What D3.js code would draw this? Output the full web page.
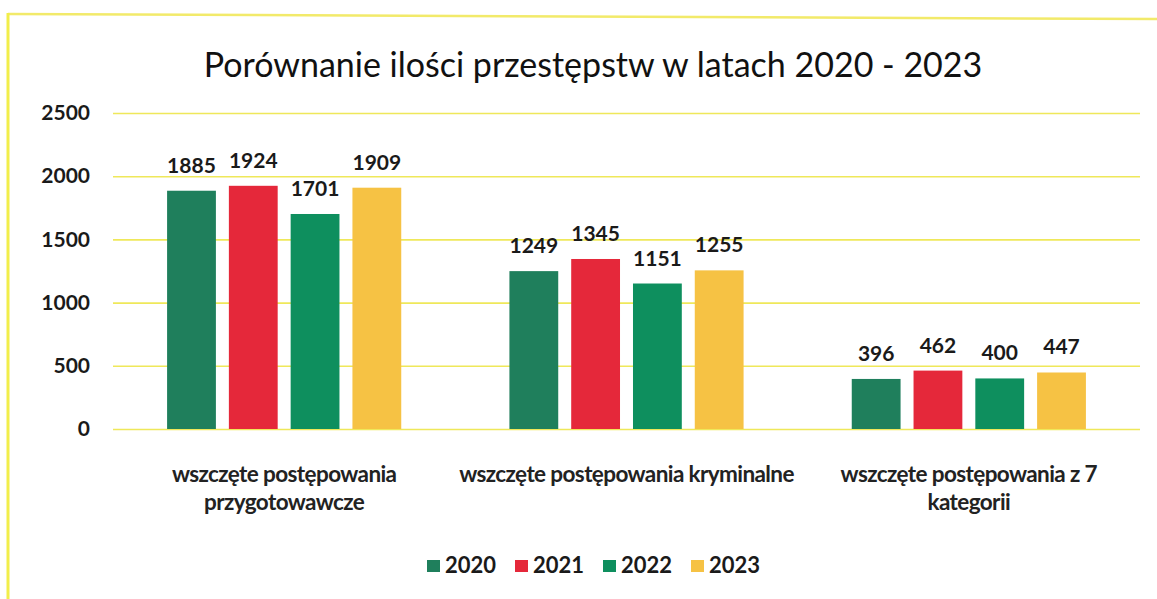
<!DOCTYPE html>
<html>
<head>
<meta charset="utf-8">
<script src="https://cdn.jsdelivr.net/npm/d3@7"></script>
<style>
  html, body { margin: 0; padding: 0; background: #fff; }
  svg { display: block; }
  text { font-family: Lato, "Open Sans", sans-serif; }
</style>
</head>
<body>
<svg id="chart" width="1157" height="599"></svg>
<script>
const title = "Porównanie ilości przestępstw w latach 2020 - 2023";
const categories = [
  ["wszczęte postępowania", "przygotowawcze"],
  ["wszczęte postępowania kryminalne"],
  ["wszczęte postępowania z 7", "kategorii"]
];
const years = ["2020", "2021", "2022", "2023"];
const values2020 = [1885, 1249, 396];
const values2021 = [1924, 1345, 462];
const values2022 = [1701, 1151, 400];
const values2023 = [1909, 1255, 447];
const yTicks = [0, 500, 1000, 1500, 2000, 2500];
const colors = ["#1f7f5c", "#e5283a", "#0e8f5e", "#f6c244"];

const series = [values2020, values2021, values2022, values2023];
const catKeys = categories.map((c, i) => "c" + i);

const svg = d3.select("#chart");
const W = 1157, H = 599;
const plot = { left: 113, right: 1140, top: 113, bottom: 429 };

// frame
svg.append("line").attr("x1", 8).attr("x2", W).attr("y1", 14).attr("y2", 19)
  .attr("stroke", "#f2ea6a").attr("stroke-width", 2.5);
svg.append("line").attr("x1", 8).attr("x2", 8).attr("y1", 13).attr("y2", H)
  .attr("stroke", "#f2ee4a").attr("stroke-width", 3);

const y = d3.scaleLinear().domain([0, 2500]).range([plot.bottom, plot.top]);
const x0 = d3.scaleBand().domain(catKeys).range([plot.left, plot.right]).paddingInner(0.316).paddingOuter(0.158);
const x1 = d3.scaleBand().domain(years).range([0, x0.bandwidth()]).paddingInner(0.21).paddingOuter(0);

// gridlines
const yAxis = d3.axisLeft(y).tickValues(yTicks).tickSize(-(plot.right - plot.left)).tickFormat(d3.format("d"));
const gAxis = svg.append("g").attr("transform", `translate(${plot.left},0)`).call(yAxis);
gAxis.select(".domain").remove();
gAxis.selectAll(".tick line").attr("stroke", "#efe85a").attr("stroke-width", 1.6);
gAxis.selectAll(".tick text")
  .attr("x", -23)
  .attr("fill", "#1a1a1a")
  .style("font-size", "21px")
  .style("font-weight", "bold")
  .style("font-family", "Lato, sans-serif");

// title
svg.append("text").attr("x", 593).attr("y", 77).attr("text-anchor", "middle")
  .attr("fill", "#111").style("font-size", "34px").text(title);

// bars
const groups = svg.append("g").selectAll("g").data(catKeys).join("g")
  .attr("transform", d => `translate(${x0(d)},0)`);

groups.each(function(key, ci) {
  const g = d3.select(this);
  const data = years.map((yr, si) => ({ yr, si, v: series[si][ci] }));
  g.selectAll("rect").data(data).join("rect")
    .attr("x", d => x1(d.yr))
    .attr("width", x1.bandwidth())
    .attr("y", d => y(d.v))
    .attr("height", d => y(0) - y(d.v))
    .attr("fill", d => colors[d.si]);
  g.selectAll("text.val").data(data).join("text")
    .attr("class", "val")
    .attr("x", d => x1(d.yr) + x1.bandwidth() / 2)
    .attr("y", d => y(d.v) - 18)
    .attr("text-anchor", "middle")
    .attr("fill", "#1a1a1a")
    .style("font-size", "21px")
    .style("font-weight", "bold")
    .text(d => d.v);
});

// category labels
svg.append("g").selectAll("text").data(categories).join("text")
  .attr("x", (d, i) => x0(catKeys[i]) + x0.bandwidth() / 2)
  .attr("y", 482)
  .attr("text-anchor", "middle")
  .attr("fill", "#222")
  .style("font-size", "22.5px")
  .style("font-weight", "bold")
  .style("letter-spacing", "-0.6px")
  .each(function(lines) {
    const t = d3.select(this);
    lines.forEach((ln, i) => {
      t.append("tspan").attr("x", t.attr("x")).attr("dy", i === 0 ? 0 : 28).text(ln);
    });
  });

// legend
const legStep = 88, legX = 427;
const leg = svg.append("g").selectAll("g").data(years).join("g")
  .attr("transform", (d, i) => `translate(${legX + i * legStep},560)`);
leg.append("rect").attr("width", 13).attr("height", 12).attr("fill", (d, i) => colors[i]);
leg.append("text").attr("x", 18).attr("y", 13).attr("fill", "#1a1a1a")
  .style("font-size", "22px").style("font-weight", "bold").text(d => d);
</script>
</body>
</html>
